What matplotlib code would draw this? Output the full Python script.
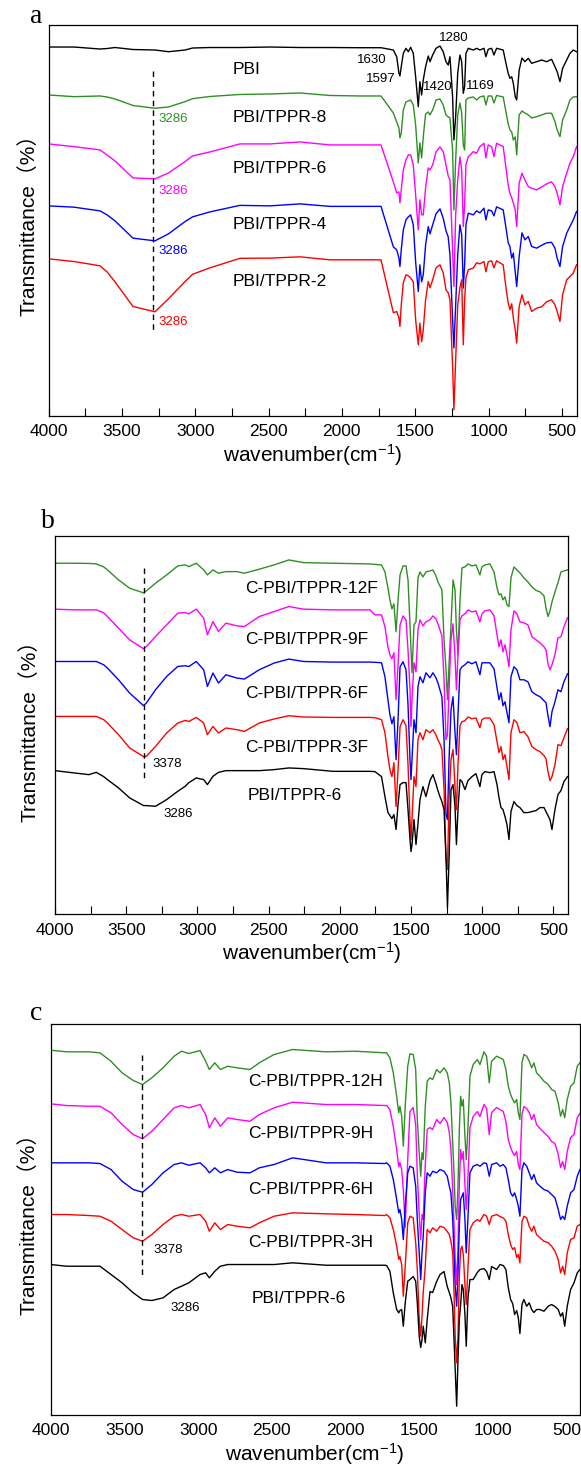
import matplotlib
matplotlib.use("Agg")
import matplotlib.pyplot as plt
from matplotlib.ticker import MultipleLocator

plt.rcParams["font.family"] = ["Liberation Sans", "Noto Sans CJK SC"]
plt.rcParams["mathtext.fontset"] = "custom"
plt.rcParams["mathtext.rm"] = "Liberation Sans"
plt.rcParams["mathtext.it"] = "Liberation Sans:italic"

# ---------------- panel a : PBI / PBI-TPPR films ----------------
wn_a = [
    4000, 3826, 3649, 3601, 3547, 3424, 3274, 3182, 3069, 3018,
    2899, 2695, 2490, 2286, 2081, 1877, 1733, 1649, 1626, 1611,
    1604, 1595, 1581, 1563, 1547, 1531, 1513, 1497, 1479, 1468,
    1456, 1445, 1429, 1411, 1399, 1381, 1358, 1331, 1309, 1290,
    1275, 1263, 1245, 1236, 1224, 1210, 1195, 1183, 1172, 1163,
    1154, 1138, 1104, 1081, 1059, 1031, 1018, 1002, 979, 963,
    945, 900, 881, 866, 854, 842, 831, 818, 808, 791,
    772, 752, 729, 706, 672, 638, 604, 570, 547, 532,
    513, 495, 467, 445, 422, 400,
]
pbi_a = [
    369, 369, 367, 367.5, 368.5, 366.5, 366, 364.3, 366, 368,
    368.5, 368.5, 369, 368.5, 368.5, 368.3, 368.3, 366, 359.3, 343,
    340, 349.3, 362.7, 367.7, 364.3, 368.7, 362.7, 339.3, 309.3, 334.3,
    321, 336, 349.3, 360, 354.3, 361, 367.7, 370, 364.3, 354.3,
    351, 359.3, 319.3, 276, 299.3, 342.7, 361, 354.3, 322.7, 329.3,
    362.7, 367.7, 366, 367.7, 366, 367.7, 359.3, 366.7, 367.7, 361,
    367.7, 366, 352.7, 342.7, 337.7, 339.3, 332.7, 319.3, 316, 346,
    358, 354.3, 357.7, 352.7, 354.3, 356, 354.3, 356.7, 349.3, 344.3,
    334.3, 347.7, 356, 362.7, 366, 364.3,
]
tppr8_a = [
    321, 319.3, 320, 319, 317, 310.5, 307.7, 309, 314.3, 317.3,
    319.5, 321.5, 322, 323, 320.5, 320, 320, 303, 294, 288,
    278, 283, 306, 314, 315, 316, 311, 291, 253, 273,
    258, 279, 302, 304, 301, 306, 316, 317, 311, 301,
    299, 298, 266, 206, 256, 301, 313, 303, 271, 266,
    316, 318, 319, 316, 319, 320, 311, 320, 320, 313,
    320.5, 319, 304, 292, 286, 284, 276, 279, 261, 301,
    305, 303, 301, 298, 299.3, 301, 302.7, 302.7, 294.3, 286,
    279.3, 296, 306, 316, 319, 319.3,
]
tppr6_a = [
    272, 269.3, 266, 261, 255, 238, 237, 243, 254.3, 260,
    264, 272, 272, 274, 271, 271, 271, 234, 223, 224,
    213, 226, 246, 256, 261, 261, 251, 221, 186, 216,
    201, 201, 228, 248, 246, 251, 264, 269, 264.3, 251,
    240, 236, 166, 129.3, 201, 236, 259, 246, 189.3, 211,
    251, 259, 264.3, 262.7, 269.3, 272.7, 258, 271, 269.3, 259.3,
    272.7, 269.3, 248, 231, 222.7, 218, 213, 206, 189.3, 233,
    242.7, 236, 229.3, 227.7, 226, 229, 232, 234, 229.3, 222.7,
    211, 229.3, 242.7, 252.7, 259.3, 269.3,
]
tppr4_a = [
    210, 208.7, 205, 201, 195, 177.7, 175, 182, 194.3, 199,
    204, 210.5, 210, 212, 209.5, 209.5, 209.5, 169, 166, 158,
    149.3, 166, 186, 196, 199, 201, 191, 154, 124.3, 151,
    134, 141, 171, 189.3, 182, 191, 202, 207, 197.7, 185,
    179, 161, 96, 67.7, 111, 161, 191, 181, 127.7, 151,
    191, 202.7, 201, 205, 203, 207.7, 196, 206, 205, 200,
    209, 206, 188, 173, 169.3, 157.7, 162.7, 144, 129.3, 159.3,
    183, 176, 179.3, 169.3, 167.7, 170.5, 173, 173.5, 167.7, 157.7,
    149.3, 169.3, 182.7, 189.3, 196, 204.3,
]
tppr2_a = [
    157, 154.3, 150, 144, 134, 109.3, 104, 117, 134.3, 141.5,
    148, 157.5, 157.7, 159, 156, 156, 156, 103, 104.3, 98,
    89.3, 111, 133, 141, 140, 138, 134, 96, 71, 92.7,
    74, 86, 116, 134.3, 128, 136, 148, 151, 143, 126,
    123, 116, 49.3, 6, 56, 111, 128, 136, 71, 116,
    138, 146, 147.7, 153, 152, 154.3, 144, 154, 155, 148,
    155, 151, 128, 113, 106, 112, 98, 86, 72.7, 109.3,
    121, 111, 114.3, 104.3, 107.7, 109, 114, 116, 111, 104.3,
    94.3, 121, 136, 139.3, 142.7, 151,
]
names_a = ["PBI", "PBI/TPPR-8", "PBI/TPPR-6", "PBI/TPPR-4", "PBI/TPPR-2"]
name_pos_a = [347, 298.7, 247.7, 191, 134.3]
peak_a = ["1630", "1597", "1280", "1420", "1169"]
peak_a_wn = [1795, 1737, 1236, 1343, 1058]
peak_a_t = [356, 336.7, 377.7, 328.7, 330]
oh_a_t = [297, 225, 165.3, 94]

# ---------------- panel b : C-PBI/TPPR-xF ----------------
wn_b = [
    4000, 3866, 3762, 3710, 3658, 3632, 3554, 3476, 3378, 3359,
    3294, 3216, 3138, 3086, 3060, 3008, 2956, 2930, 2891, 2852,
    2800, 2722, 2670, 2566, 2462, 2358, 2254, 2048, 1788, 1753,
    1707, 1683, 1662, 1648, 1634, 1620, 1605, 1591, 1577, 1556,
    1535, 1521, 1507, 1500, 1493, 1479, 1465, 1451, 1437, 1416,
    1395, 1367, 1346, 1325, 1311, 1297, 1283, 1268, 1254, 1244,
    1233, 1219, 1205, 1191, 1181, 1170, 1156, 1142, 1121, 1100,
    1072, 1044, 1016, 1002, 981, 946, 917, 896, 882, 868,
    854, 840, 826, 812, 798, 777, 756, 735, 707, 679,
    651, 622, 594, 566, 552, 538, 524, 510, 489, 468,
    447, 426, 401,
]
f12_b = [
    351.7, 351.7, 351.5, 351, 348, 345, 335, 326.7, 322, 324,
    331.7, 340, 349, 350, 348.3, 351.7, 345, 340, 345, 341.7,
    343.3, 343.3, 341.7, 345.7, 350, 355, 352.3, 351.7, 351, 350.5,
    350, 343, 327, 315, 306, 311, 283, 315, 340, 349,
    349, 335, 290, 265, 242, 290, 293, 337, 343, 338,
    343, 344, 345, 339, 333, 329, 325, 275, 245, 215,
    250, 290, 335, 325, 285, 260, 315, 347, 348, 351,
    349, 350, 340, 348, 350, 351, 343, 327, 320, 321,
    315, 318, 310, 308.3, 337, 348, 345, 342, 337, 333,
    328, 324.5, 323, 319, 307, 298.3, 304, 313, 323, 332,
    343, 344, 345,
]
f9_b = [
    305.7, 305, 305, 305, 302, 298.3, 286.7, 275, 266, 268.3,
    278.3, 290, 301.7, 302.3, 301, 305.7, 296.7, 280, 293.3, 283.3,
    291.7, 289, 288.3, 298.3, 303.3, 308.3, 305.7, 305, 305, 300,
    300, 288, 268, 260, 256, 262, 215, 250, 290, 299,
    295, 265, 225, 188, 215, 252, 243, 285, 295, 289,
    293, 295, 299, 296, 291, 285, 279, 235, 175, 180,
    225, 275, 291, 258, 225, 260, 295, 299, 301, 305,
    303, 304, 293, 301, 304, 305, 299, 280, 268, 275,
    263, 270, 260, 248, 285, 304, 301, 293, 292, 290,
    278, 275, 272, 268, 265, 251, 245, 250, 260, 277,
    278, 288, 297,
]
f6_b = [
    253.3, 253.3, 253.3, 253.3, 250, 246.7, 235, 221.7, 209, 211.7,
    225, 238.3, 248.3, 249, 248.3, 253.3, 245, 228.3, 241.7, 231.7,
    240, 236.7, 235.7, 245, 251.7, 255.7, 253.3, 252.7, 252.7, 252.5,
    252, 238, 215, 200, 191, 198, 155, 195, 248, 253,
    245, 210, 155, 135, 155, 195, 182, 228, 238, 232,
    242, 237, 242, 237, 232, 225, 218, 175, 100, 95,
    155, 205, 218, 182, 160, 200, 245, 248, 250, 253,
    251, 253, 240, 252, 252, 252, 246, 227, 215, 222,
    209, 213, 202, 192, 238, 248, 245, 235, 235, 233,
    223, 220, 218, 214, 212, 199, 188, 203, 213, 225,
    223, 233, 241,
]
f3_b = [
    198.3, 198.3, 198.3, 198.3, 195, 191.7, 180, 166.7, 158, 158.3,
    168.3, 181.7, 191.7, 194.3, 193.3, 197.3, 191.7, 180, 188.3, 181.7,
    186.7, 185, 183.3, 191.7, 195.7, 199, 197.7, 197.3, 197.3, 197,
    195, 182, 158, 145, 138, 152, 108, 145, 188, 195,
    189, 150, 95, 75, 95, 138, 128, 175, 182, 175,
    185, 182, 185, 180, 175, 171, 165, 125, 55, 45,
    115, 155, 165, 128, 105, 150, 189, 193, 194, 197.7,
    196, 196.7, 187, 195, 196.7, 196.7, 190, 173, 162, 168,
    155, 160, 148, 135, 182, 195, 192, 182, 183, 178,
    168, 165, 163, 159, 156, 143, 134, 138, 150, 170,
    169, 177, 186,
]
ref_b = [
    144, 141.7, 140, 142.3, 138, 135, 126.7, 116.7, 109, 109,
    108.3, 115, 123.3, 128.3, 132, 136.7, 135, 130, 138.3, 142.3,
    144, 144, 144, 144, 145, 146.7, 146, 143.3, 143.3, 143,
    138, 118, 102, 99, 96, 100, 85, 110, 130, 132,
    132, 105, 75, 63, 70, 95, 70, 91, 115, 128,
    118, 134, 140, 131, 124, 118, 113, 105, 55, 7,
    55, 125, 130, 108, 70, 105, 135, 133, 125, 134,
    138, 141, 128, 140, 143, 142, 143, 130, 117, 107,
    105, 98, 90, 75, 103, 113, 109, 107, 102, 102,
    103, 104, 107, 107, 103, 99, 95, 85, 105, 120,
    124, 133, 138,
]
names_b = ["C-PBI/TPPR-12F", "C-PBI/TPPR-9F", "C-PBI/TPPR-6F", "C-PBI/TPPR-3F", "PBI/TPPR-6"]
name_pos_b = [326.7, 275, 221.7, 166.7, 119]

# ---------------- panel c : C-PBI/TPPR-xH ----------------
wn_c = [
    4000, 3892, 3741, 3666, 3591, 3516, 3440, 3377, 3314, 3238,
    3163, 3113, 3063, 2987, 2949, 2924, 2887, 2849, 2799, 2736,
    2648, 2585, 2485, 2359, 2133, 1932, 1732,
    1721, 1699, 1676, 1653, 1639, 1631, 1619, 1608, 1595, 1578,
    1563, 1541, 1524, 1513, 1500, 1490, 1481, 1473, 1459, 1446,
    1427, 1409, 1382, 1359, 1332, 1310, 1296, 1285, 1273, 1264,
    1256, 1246, 1237, 1228, 1219, 1210, 1201, 1190, 1181, 1170,
    1156, 1134, 1106, 1088, 1061, 1043, 1025, 1009, 975, 952,
    930, 912, 896, 880, 866, 853, 839, 828, 817, 803,
    790, 771, 754, 737, 722, 704, 681, 654, 625, 602,
    579, 557, 541, 527, 513, 496, 473, 450, 428, 410,
]
h12_c = [
    364.3, 362.7, 362.7, 361.7, 353.3, 341.7, 334, 330, 336.7, 346.7,
    358.3, 363.3, 361, 364, 353.3, 345, 351.7, 345, 348.3, 346.7,
    345, 351.7, 360, 365, 362.7, 363.3, 361.7,
    361.7, 356.7, 341.7, 318.3, 301.7, 308.3, 298.3, 268.3, 308.3, 348.3,
    360.7, 360, 345, 295, 261.7, 238.3, 261.7, 255, 308.3, 333.3,
    336.7, 335, 345, 341.7, 346.7, 341.7, 331.7, 311.7, 271.7, 241.7,
    208.3, 195, 228.3, 285, 318.3, 308.3, 315, 278.3, 255, 285,
    338.3, 350, 355, 350, 362.7, 358.3, 331.7, 353.3, 358.3, 356.7,
    355, 345, 328.3, 320, 315, 311.7, 315, 301.7, 295, 351.7,
    360, 358.3, 353.3, 346.7, 351.7, 341.7, 338.3, 333.3, 330, 325,
    323.3, 311.7, 298.3, 305, 296.7, 315, 328.3, 331.7, 348.3, 351.7,
]
h9_c = [
    310.7, 309, 308.3, 308.3, 301.7, 290, 280, 275.7, 283.3, 295,
    306.7, 309, 306.7, 310, 300, 286.7, 296.7, 288.3, 296.7, 295,
    293.3, 300, 306.7, 312.3, 310, 310, 309,
    309, 305, 288, 265, 248, 252, 245, 225, 187, 255,
    303, 307, 290, 240, 200, 175, 200, 195, 250, 285,
    287, 285, 295, 291, 297, 292, 282, 265, 225, 190,
    155, 130, 170, 230, 265, 255, 263, 230, 205, 235,
    287, 298, 303, 298, 310, 306, 280, 302, 307, 305,
    303, 293, 275, 267, 262, 259, 263, 250, 245, 300,
    308, 306, 302, 295, 300, 290, 286, 282, 278, 273,
    271, 260, 247, 253, 245, 263, 277, 280, 297, 301,
]
h6_c = [
    251.7, 251.7, 251.7, 251, 245, 233.3, 225, 222.3, 230, 241.7,
    250, 251.7, 249.3, 251.7, 246.7, 241.7, 246.7, 241.7, 245, 242.3,
    241.7, 246.7, 250, 256.7, 251.7, 251.7, 251,
    251.7, 248.3, 235, 215, 201.7, 205, 195, 175, 208.3, 241.7,
    248.3, 246.7, 228.3, 195, 161.7, 135, 161.7, 178.3, 221.7, 241.7,
    238.3, 243.3, 241.7, 245, 243.3, 238.3, 228.3, 221.7, 195, 161.7,
    128.3, 108.3, 141.7, 188.3, 215, 218.3, 221.7, 195, 161.7, 195,
    241.7, 248.3, 250, 248.3, 251.7, 251, 238.3, 250, 251.7, 248.3,
    250, 246.7, 235, 221.7, 218.3, 221.7, 215, 208.3, 198.3, 245,
    251.7, 248.3, 241.7, 235, 240, 231.7, 228.3, 225, 223.3, 220,
    216.7, 205, 195, 198.3, 195, 208.3, 221.7, 225, 238.3, 245,
]
h3_c = [
    200, 200, 199, 198.3, 193.3, 185, 176.7, 173.3, 180, 190,
    198.3, 200, 198.3, 200, 193.3, 183.3, 191.7, 185, 190, 188.3,
    186.7, 191.7, 198.3, 201.7, 200.7, 200, 199,
    200, 196.7, 185, 168.3, 155, 158, 150, 118.3, 148.3, 191.7,
    198.3, 196.7, 171.7, 145, 95, 78.3, 98.3, 121.7, 148.3, 185,
    181.7, 186.7, 183.3, 188.3, 187, 183, 180, 173.3, 161.7, 121.7,
    78.3, 51.7, 78.3, 138.3, 165, 168.3, 160, 130, 110, 145,
    185, 191.7, 195, 193.3, 200, 198.3, 190, 198.3, 200, 198,
    196.7, 193.3, 180, 170, 165, 167, 157, 160, 151.7, 193,
    198.3, 196.7, 188.3, 183.3, 188.3, 180, 176.7, 173.3, 171.7, 168.3,
    163.3, 155, 141.7, 148.3, 140, 161.7, 175, 176.7, 188.3, 190,
]
ref_c = [
    150, 148.3, 148.3, 148.3, 140, 131.7, 121.7, 115, 114, 116.7,
    125, 128.3, 131.7, 140, 141.7, 136.7, 143.3, 148.3, 150, 150,
    150, 150, 150, 151.7, 149.3, 149.3, 149.3,
    149, 143.3, 121.7, 105, 101.7, 104, 105, 88.3, 111.7, 133.3,
    135, 138, 133.3, 111.7, 78.3, 67, 75, 88.3, 71.7, 95,
    123, 122, 133, 140, 143, 128, 122, 116.7, 108, 75,
    45, 8.3, 55, 95, 110, 130, 125, 100, 68.3, 115,
    135, 135, 142, 145, 146, 143, 135, 148, 145, 150,
    149, 145, 127, 115, 111, 100, 104, 97, 81, 110,
    115, 108.3, 111.7, 105, 102, 105, 105, 103.3, 108.3, 110,
    108, 105, 98.3, 101.7, 88.3, 108.3, 125, 131.7, 141.7, 145,
]
names_c = ["C-PBI/TPPR-12H", "C-PBI/TPPR-9H", "C-PBI/TPPR-6H", "C-PBI/TPPR-3H", "PBI/TPPR-6"]
name_pos_c = [333.3, 281, 225, 172.3, 116]

GREEN = "#2f8f24"
colors_a = ["#000000", GREEN, "#ff00ff", "#0000ff", "#ff0000"]
colors_bc = [GREEN, "#ff00ff", "#0000ff", "#ff0000", "#000000"]


def style_axis(axis, xmax_right, ymax, ticks=True):
    axis.set_xlim(4000, xmax_right)
    axis.set_ylim(0, ymax)
    axis.set_yticks([])
    axis.xaxis.set_major_locator(MultipleLocator(500))
    axis.xaxis.set_minor_locator(MultipleLocator(250))
    tick_len = 6 if ticks else 0
    axis.tick_params(axis="x", which="both", direction="in", length=tick_len,
                     width=0.8, labelsize=12.5, pad=6)
    for spine in axis.spines.values():
        spine.set_linewidth(0.9)
    axis.set_xlabel("wavenumber(cm$^{-1}$)", fontsize=15, labelpad=2)


fig = plt.figure(figsize=(5.81, 14.73), dpi=100)
ax_a = fig.add_axes([0.0835, 0.7178, 0.9088, 0.2652])
ax_b = fig.add_axes([0.0947, 0.3792, 0.8823, 0.2566])
ax_c = fig.add_axes([0.0873, 0.0397, 0.9103, 0.2651])

# panel a
for series, color in zip([pbi_a, tppr8_a, tppr6_a, tppr4_a, tppr2_a], colors_a):
    ax_a.plot(wn_a, series, color=color, lw=1.0)
for name, t in zip(names_a, name_pos_a):
    ax_a.text(2742, t, name, fontsize=12.5, ha="left", va="center")
for lab, w, t in zip(peak_a, peak_a_wn, peak_a_t):
    ax_a.text(w, t, lab, fontsize=9.5, ha="center", va="center")
for t, color in zip(oh_a_t, colors_a[1:]):
    ax_a.text(3250, t, "3286", fontsize=9.5, color=color, ha="left", va="center")
ax_a.plot([3286, 3286], [345, 83], color="black", lw=1.0, ls=(0, (4, 3)))
style_axis(ax_a, 400, 391)
ax_a.set_ylabel("Transmittance（%）", fontsize=15, labelpad=7)

# panel b
for series, color in zip([f12_b, f9_b, f6_b, f3_b, ref_b], colors_bc):
    ax_b.plot(wn_b, series, color=color, lw=1.0)
for name, t in zip(names_b, name_pos_b):
    ax_b.text(2666 if name.startswith("C") else 2645, t, name, fontsize=12.5,
              ha="left", va="center")
ax_b.plot([3378, 3378], [347, 132.3], color="black", lw=1.0, ls=(0, (4, 3)))
ax_b.text(3315, 151, "3378", fontsize=9.5, ha="left", va="center")
ax_b.text(3242, 101, "3286", fontsize=9.5, ha="left", va="center")
style_axis(ax_b, 400, 378.5)
ax_b.set_ylabel("Transmittance（%）", fontsize=15, labelpad=11)

# panel c
for series, color in zip([h12_c, h9_c, h6_c, h3_c, ref_c], colors_bc):
    ax_c.plot(wn_c, series, color=color, lw=1.0)
for name, t in zip(names_c, name_pos_c):
    ax_c.text(2662 if name.startswith("C") else 2635, t, name, fontsize=12.5,
              ha="left", va="center")
ax_c.plot([3378, 3378], [360, 139], color="black", lw=1.0, ls=(0, (4, 3)))
ax_c.text(3301, 165, "3378", fontsize=9.5, ha="left", va="center")
ax_c.text(3188, 106.7, "3286", fontsize=9.5, ha="left", va="center")
style_axis(ax_c, 412, 390.5, ticks=False)
ax_c.set_ylabel("Transmittance（%）", fontsize=15, labelpad=9)

# panel letters
for letter, x, y in [("a", 0.0516, 0.9844), ("b", 0.0706, 0.6415), ("c", 0.0516, 0.3075)]:
    fig.text(x, y, letter, fontsize=20, family="Liberation Serif", va="baseline")

fig.savefig("out.png", dpi=100)
plt.close(fig)
